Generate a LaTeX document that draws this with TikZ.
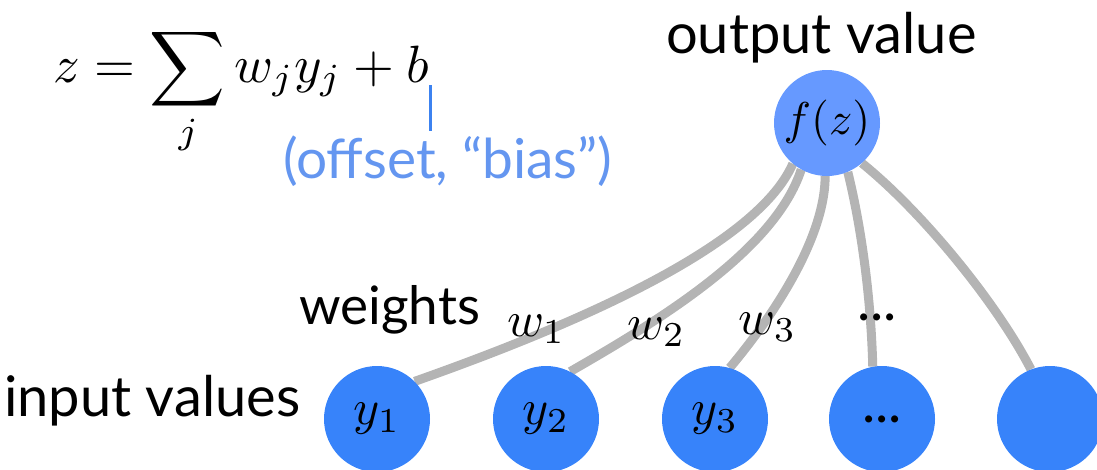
\documentclass[tikz,border=0pt]{standalone}
\usepackage{amsmath}
\usepackage{fontspec}
\newfontfamily\gill{Lato}
\usetikzlibrary{backgrounds}
\definecolor{darkblue}{RGB}{55,131,250}
\definecolor{lightblue}{RGB}{102,153,255}
\definecolor{textblue}{RGB}{100,150,240}
\definecolor{biasblue}{RGB}{60,130,240}
\definecolor{wiregray}{RGB}{180,180,180}
\newcommand{\mymath}[1]{\scalebox{5}{$#1$}}
\begin{document}
\begin{tikzpicture}[x=1pt,y=-1pt,
  neuron/.style={circle,fill=darkblue,minimum size=106pt,inner sep=0pt},
  outneuron/.style={neuron,fill=lightblue},
  lbl/.style={inner sep=0pt,anchor=base west,font=\gill\fontsize{56}{62}\selectfont},
  wlbl/.style={inner sep=0pt,anchor=base west},
  wire/.style={draw=wiregray,line width=9pt},
  biasline/.style={draw=biasblue,line width=3pt},
]
\useasboundingbox (0,0) rectangle (1097,469);

% equation
\node[inner sep=0pt,anchor=base west] (eq) at (53,82)
  {\scalebox{5.25}{$\displaystyle z=\sum_j w_jy_j+b$}};
\node[lbl,text=textblue,font=\gill\fontsize{55}{60}\selectfont] (bias) at (283,178) {(offset, “bias”)};
\coordinate (btop) at (430,85);
\coordinate (bbot) at (430,131);
\draw[biasline] (btop) -- (bbot);

% output neuron
\node[lbl] (outlbl) at (666,53) {output value};
\node[outneuron] (f) at (827,123) {\scalebox{4.6}{$f(z)$}};

% input neurons
\node[neuron] (y1) at (377,419) {\mymath{y_1}};
\node[neuron] (y2) at (546,419) {\mymath{y_2}};
\node[neuron] (y3) at (715,419) {\mymath{y_3}};
\node[neuron,font=\gill\fontsize{56}{62}\selectfont] (y4) at (882,419) {...};
\node[neuron] (y5) at (1050,419) {};

% labels
\node[lbl] (inlbl) at (4,416) {input values};
\node[lbl,font=\gill\fontsize{53}{58}\selectfont] (wlbl) at (299,324) {weights};
\node[wlbl] (w1) at (507,336) {\mymath{w_1}};
\node[wlbl] (w2) at (627,339) {\mymath{w_2}};
\node[wlbl] (w3) at (738,334) {\mymath{w_3}};
\node[lbl,anchor=base] (wd) at (877,320) {...};

% connections
\begin{scope}[on background layer]
  \draw[wire] (f.230) .. controls (755,250) and (560,330) .. (y1.45);
  \draw[wire] (f.241) .. controls (775,250) and (660,320) .. (y2.63);
  \draw[wire] (f.268) .. controls (825,240) and (770,320) .. (y3.74);
  \draw[wire] (f.293) .. controls (862,230) and (871,300) .. (y4.100);
  \draw[wire] (f.311) .. controls (920,210) and (995,300) .. (y5.111);
\end{scope}
\end{tikzpicture}
\end{document}
